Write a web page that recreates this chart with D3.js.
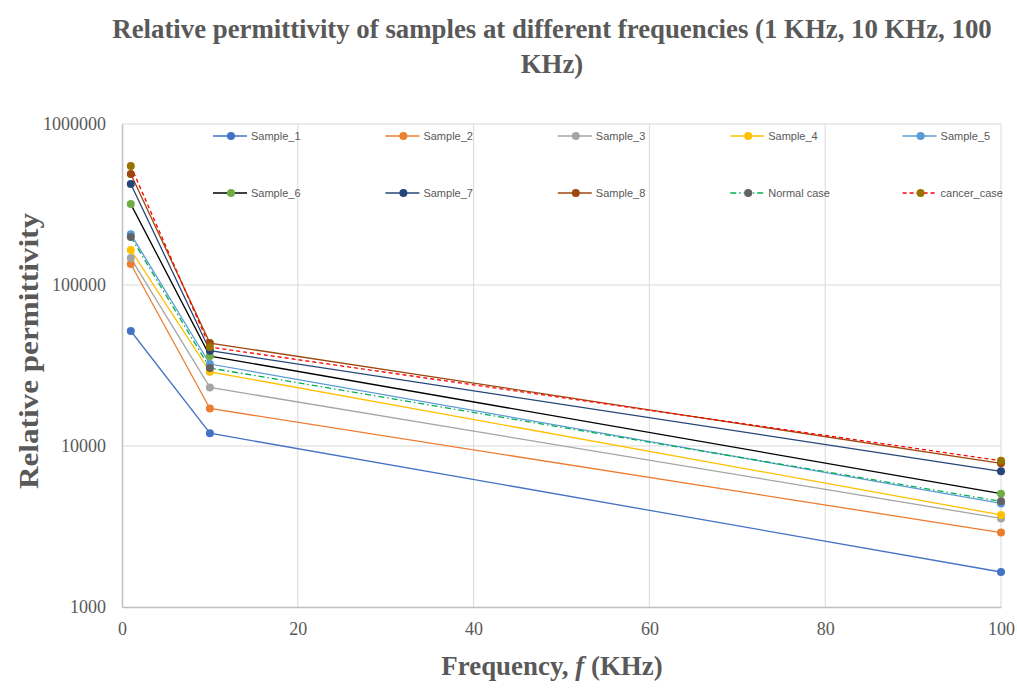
<!DOCTYPE html>
<html>
<head>
<meta charset="utf-8">
<script src="https://cdn.jsdelivr.net/npm/d3@7"></script>
<style>
  body { margin: 0; background: #fff; }
  text { fill: #595959; }
</style>
</head>
<body>
<svg id="chart" width="1017" height="688"></svg>
<script>
// data
const freqs = [1, 10, 100];
const seriesNames = ['Sample_1', 'Sample_2', 'Sample_3', 'Sample_4', 'Sample_5',
    'Sample_6', 'Sample_7', 'Sample_8', 'Normal case', 'cancer_case'];
const sample1 = [51800, 12000, 1650];
const sample2 = [135000, 17100, 2900];
const sample3 = [147000, 23100, 3550];
const sample4 = [165000, 28900, 3730];
const sample5 = [207000, 32300, 4400];
const sample6 = [318000, 36200, 5060];
const sample7 = [424000, 39100, 6960];
const sample8 = [489000, 43600, 7800];
const normalCase = [199000, 30500, 4530];
const cancerCase = [548000, 41200, 8100];
const xTicks = [0, 20, 40, 60, 80, 100];
const yTicks = [1000, 10000, 100000, 1000000];

const lineColors = ['#4472C4', '#ED7D31', '#A5A5A5', '#FFC000', '#5B9BD5',
    '#000000', '#264478', '#9E480E', '#00B050', '#FF0000'];
const markColors = ['#4472C4', '#ED7D31', '#A5A5A5', '#FFC000', '#5B9BD5',
    '#70AD47', '#264478', '#9E480E', '#636363', '#997300'];
const dashes = [null, null, null, null, null, null, null, null, '6,3,1.5,3', '4,3'];

const allValues = [sample1, sample2, sample3, sample4, sample5,
    sample6, sample7, sample8, normalCase, cancerCase];

const MARGIN = {left: 122, right: 16, top: 124, bottom: 81};
const W = 1017, H = 688;

const svg = d3.select('#chart');

const xScale = d3.scaleLinear().domain([0, 100]).range([MARGIN.left, W - MARGIN.right]);
const yScale = d3.scaleLog().domain([1000, 1000000]).range([H - MARGIN.bottom, MARGIN.top]);

// gridlines
svg.append('g')
    .selectAll('line')
    .data(xTicks.slice(1))
    .enter().append('line')
    .attr('x1', d => xScale(d)).attr('x2', d => xScale(d))
    .attr('y1', yScale(1000000)).attr('y2', yScale(1000))
    .attr('stroke', '#d9d9d9').attr('stroke-width', 1);

svg.append('g')
    .selectAll('line')
    .data(yTicks.slice(1))
    .enter().append('line')
    .attr('x1', xScale(0)).attr('x2', xScale(100))
    .attr('y1', d => yScale(d)).attr('y2', d => yScale(d))
    .attr('stroke', '#d9d9d9').attr('stroke-width', 1);

// x-axis
const xAxis = svg.append('g')
    .attr('transform', `translate(0, ${yScale(1000)})`)
    .call(d3.axisBottom(xScale).tickValues(xTicks).tickSize(0).tickPadding(15));
xAxis.select('.domain').attr('stroke', '#bfbfbf').attr('stroke-width', 1.5);
xAxis.selectAll('text')
    .style('font-family', '"Liberation Serif", serif')
    .style('font-size', '18px')
    .attr('fill', '#595959');

// y-axis
const yAxis = svg.append('g')
    .attr('transform', `translate(${xScale(0)}, 0)`)
    .call(d3.axisLeft(yScale).tickValues(yTicks).tickFormat(d3.format('d')).tickSize(0).tickPadding(16));
yAxis.select('.domain').attr('stroke', '#bfbfbf').attr('stroke-width', 1.5);
yAxis.selectAll('text')
    .style('font-family', '"Liberation Serif", serif')
    .style('font-size', '18px')
    .attr('fill', '#595959');

// shrink a bold serif text until it fits the width it has in the picture
function fitText(sel, width, startSize) {
    let size = startSize;
    sel.style('font-size', size + 'px');
    const w = sel.node().getComputedTextLength();
    if (w > width) {
        size = Math.floor(size * width / w * 10) / 10;
        sel.style('font-size', size + 'px');
    }
    return size;
}

// titles
const t1 = svg.append('text')
    .attr('x', 552).attr('y', 38)
    .attr('text-anchor', 'middle')
    .style('font-family', '"Liberation Serif", serif')
    .style('font-weight', 'bold')
    .text('Relative permittivity of samples at different frequencies (1 KHz, 10 KHz, 100');
const tSize = fitText(t1, 880, 28);

svg.append('text')
    .attr('x', 552).attr('y', 73)
    .attr('text-anchor', 'middle')
    .style('font-family', '"Liberation Serif", serif')
    .style('font-weight', 'bold').style('font-size', tSize + 'px')
    .text('KHz)');

const xt = svg.append('text')
    .attr('x', 552).attr('y', 675)
    .attr('text-anchor', 'middle')
    .style('font-family', '"Liberation Serif", serif')
    .style('font-weight', 'bold');
xt.append('tspan').text('Frequency, ');
xt.append('tspan').style('font-style', 'italic').text('f');
xt.append('tspan').text(' (KHz)');
fitText(xt, 222, 27);

svg.append('text')
    .attr('transform', 'translate(38, 351) rotate(-90)')
    .attr('text-anchor', 'middle')
    .attr('textLength', 276).attr('lengthAdjust', 'spacingAndGlyphs')
    .style('font-family', '"Liberation Serif", serif')
    .style('font-weight', 'bold').style('font-size', '28px')
    .text('Relative permittivity');

// series
const line = d3.line()
    .x((d, i) => xScale(freqs[i]))
    .y(d => yScale(d));

const chart = svg.append('g');

allValues.forEach((vals, s) => {
    chart.append('path')
        .datum(vals)
        .attr('d', line)
        .attr('fill', 'none')
        .attr('stroke', lineColors[s])
        .attr('stroke-width', 1.3)
        .attr('stroke-dasharray', dashes[s]);
});

allValues.forEach((vals, s) => {
    chart.selectAll(null)
        .data(vals)
        .enter().append('circle')
        .attr('cx', (d, i) => xScale(freqs[i]))
        .attr('cy', d => yScale(d))
        .attr('r', 4)
        .attr('fill', markColors[s]);
});

// legend
const legend = svg.append('g');
seriesNames.forEach((name, s) => {
    const col = s % 5, row = Math.floor(s / 5);
    const cx = 231 + col * 172.4;
    const cy = 136 + row * 57;
    const g = legend.append('g');
    g.append('line')
        .attr('x1', cx - 18).attr('x2', cx + 16)
        .attr('y1', cy).attr('y2', cy)
        .attr('stroke', lineColors[s]).attr('stroke-width', 1.3)
        .attr('stroke-dasharray', dashes[s]);
    g.append('circle')
        .attr('cx', cx).attr('cy', cy).attr('r', 4)
        .attr('fill', markColors[s]);
    g.append('text')
        .attr('x', cx + 20).attr('y', cy + 4)
        .style('font-family', '"Liberation Sans", sans-serif')
        .style('font-size', '11px')
        .text(name);
});
</script>
</body>
</html>
